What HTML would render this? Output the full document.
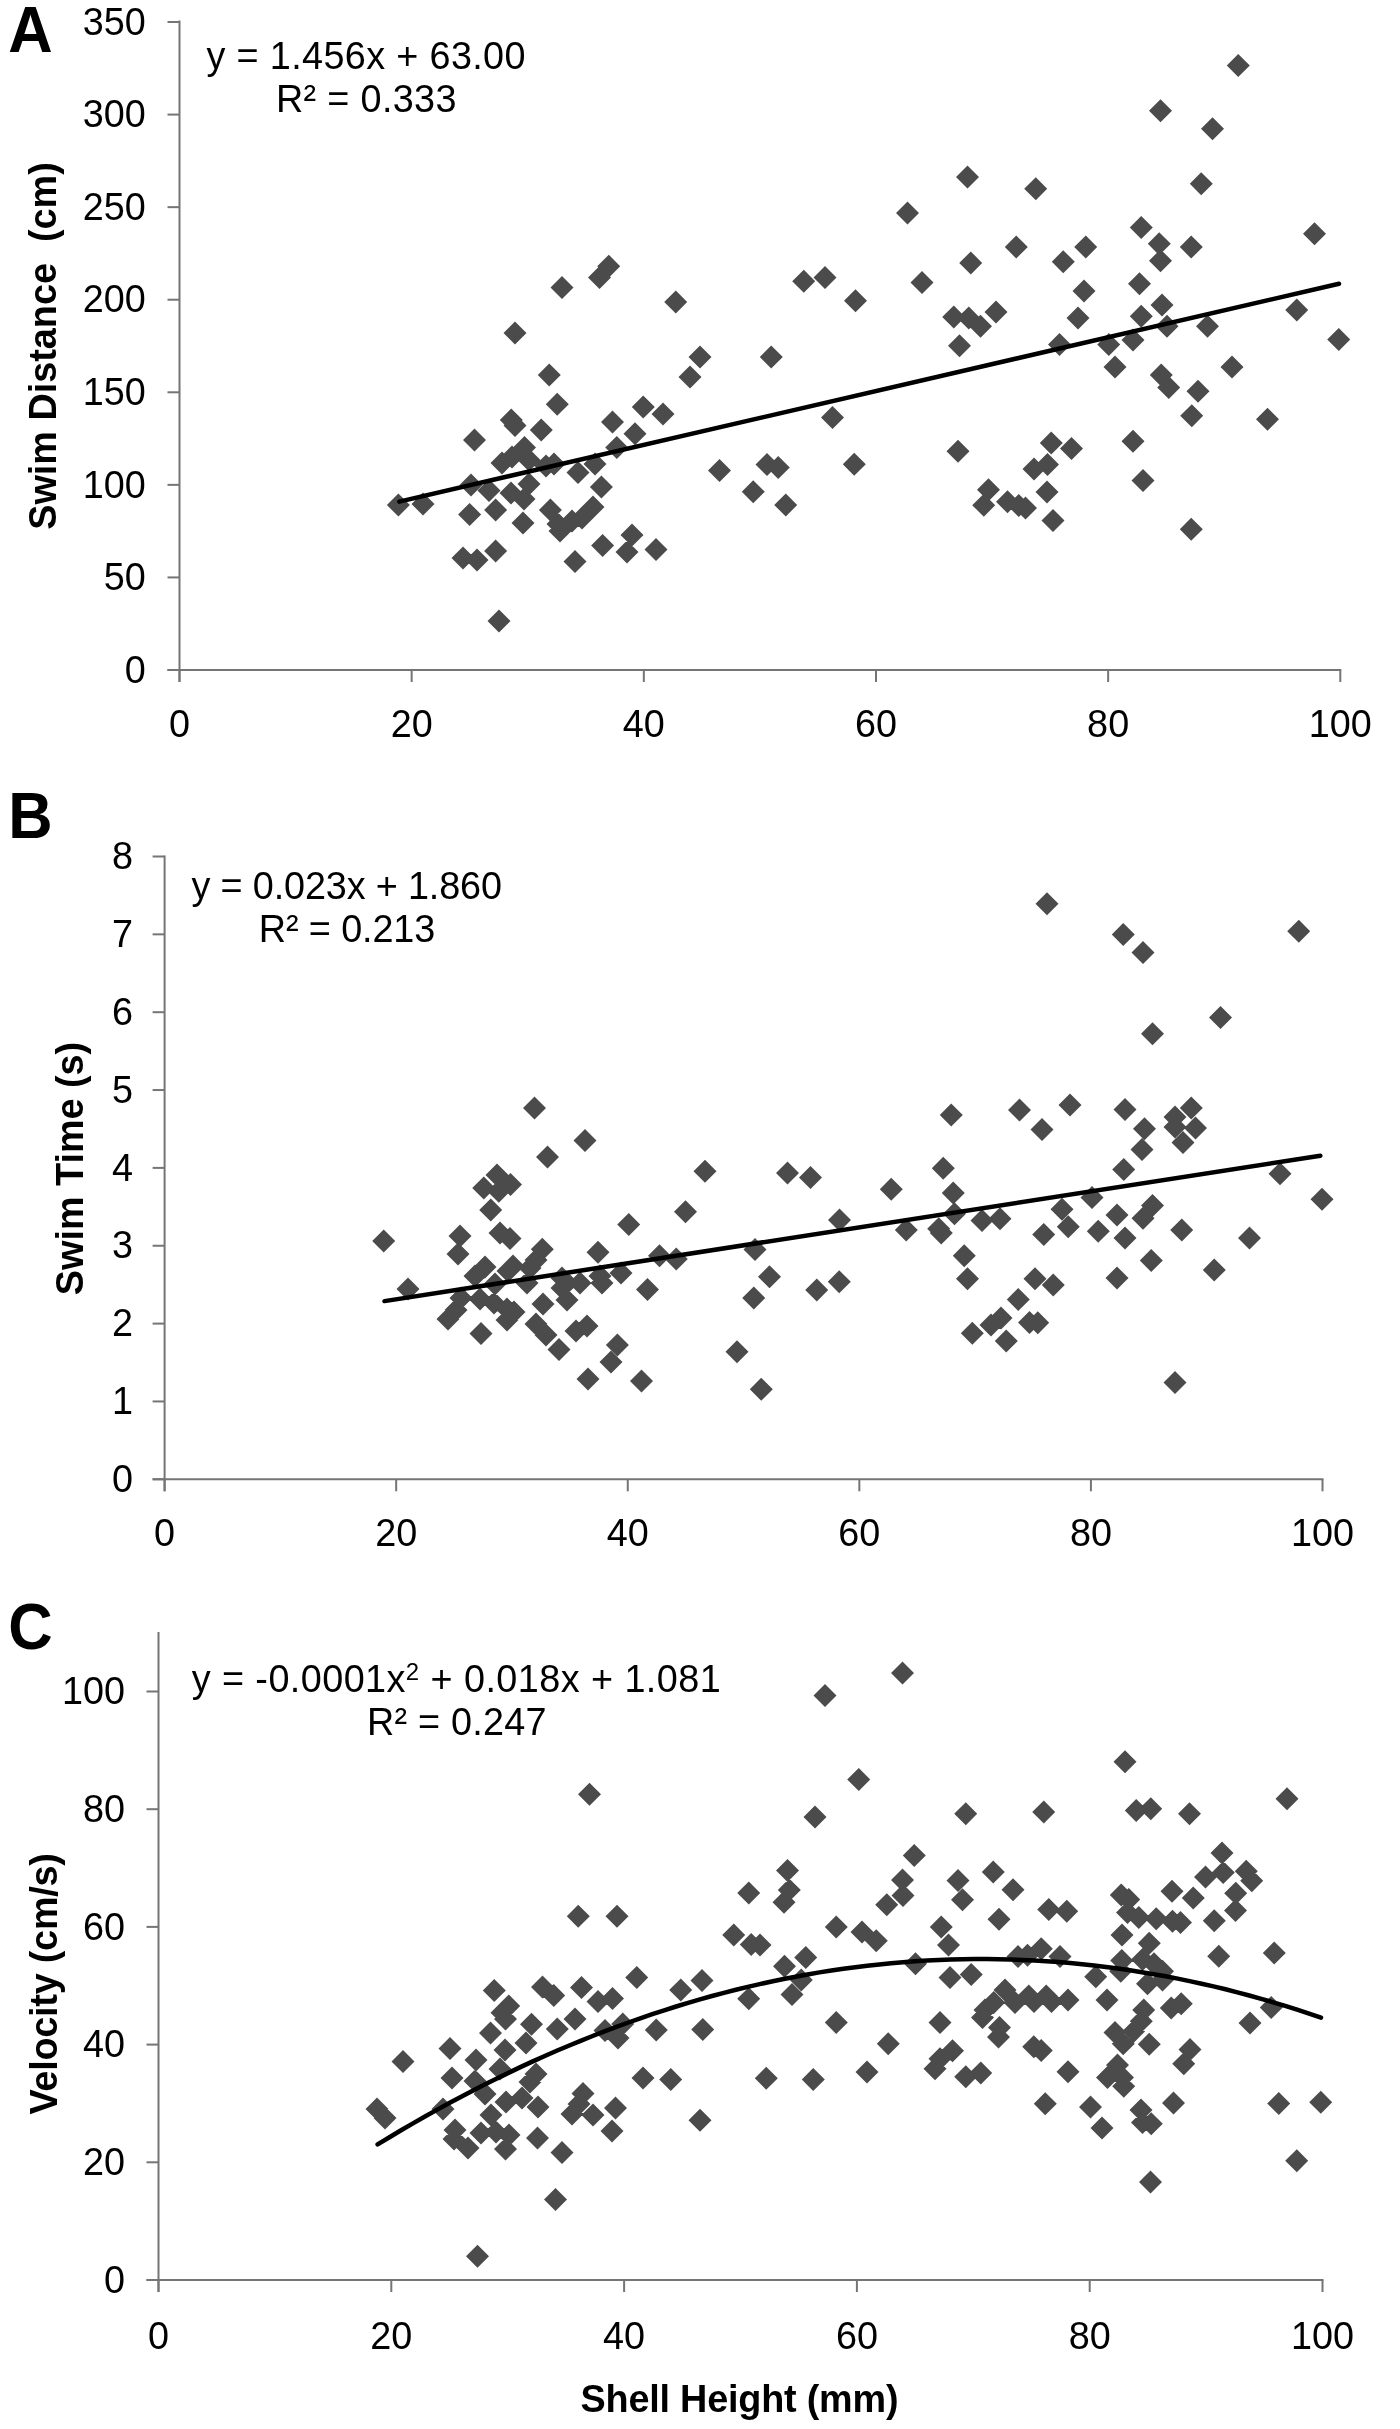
<!DOCTYPE html>
<html><head><meta charset="utf-8"><title>Figure</title>
<style>html,body{margin:0;padding:0;background:#fff}svg{display:block;will-change:transform}text{font-family:"Liberation Sans",sans-serif;fill:#000}</style>
</head><body>
<svg width="1400" height="2429" viewBox="0 0 1400 2429">
<rect width="1400" height="2429" fill="#fff"/>
<line x1="179.5" y1="20.5" x2="179.5" y2="682" stroke="#757575" stroke-width="2"/>
<line x1="167.5" y1="670" x2="1341.3" y2="670" stroke="#757575" stroke-width="2"/>
<line x1="167.5" y1="670.0" x2="179.5" y2="670.0" stroke="#757575" stroke-width="2"/>
<text transform="translate(145.7,682.7) scale(1,1.025)" text-anchor="end" font-size="37.8">0</text>
<line x1="167.5" y1="577.4300000000001" x2="179.5" y2="577.4300000000001" stroke="#757575" stroke-width="2"/>
<text transform="translate(145.7,590.1300000000001) scale(1,1.025)" text-anchor="end" font-size="37.8">50</text>
<line x1="167.5" y1="484.86" x2="179.5" y2="484.86" stroke="#757575" stroke-width="2"/>
<text transform="translate(145.7,497.56) scale(1,1.025)" text-anchor="end" font-size="37.8">100</text>
<line x1="167.5" y1="392.29" x2="179.5" y2="392.29" stroke="#757575" stroke-width="2"/>
<text transform="translate(145.7,404.99) scale(1,1.025)" text-anchor="end" font-size="37.8">150</text>
<line x1="167.5" y1="299.72" x2="179.5" y2="299.72" stroke="#757575" stroke-width="2"/>
<text transform="translate(145.7,312.42) scale(1,1.025)" text-anchor="end" font-size="37.8">200</text>
<line x1="167.5" y1="207.15000000000003" x2="179.5" y2="207.15000000000003" stroke="#757575" stroke-width="2"/>
<text transform="translate(145.7,219.85000000000002) scale(1,1.025)" text-anchor="end" font-size="37.8">250</text>
<line x1="167.5" y1="114.58000000000004" x2="179.5" y2="114.58000000000004" stroke="#757575" stroke-width="2"/>
<text transform="translate(145.7,127.28000000000004) scale(1,1.025)" text-anchor="end" font-size="37.8">300</text>
<line x1="167.5" y1="22.00999999999999" x2="179.5" y2="22.00999999999999" stroke="#757575" stroke-width="2"/>
<text transform="translate(145.7,34.709999999999994) scale(1,1.025)" text-anchor="end" font-size="37.8">350</text>
<line x1="179.5" y1="670" x2="179.5" y2="682" stroke="#757575" stroke-width="2"/>
<text transform="translate(179.5,737.3) scale(1,1.025)" text-anchor="middle" font-size="37.8">0</text>
<line x1="411.65999999999997" y1="670" x2="411.65999999999997" y2="682" stroke="#757575" stroke-width="2"/>
<text transform="translate(411.65999999999997,737.3) scale(1,1.025)" text-anchor="middle" font-size="37.8">20</text>
<line x1="643.8199999999999" y1="670" x2="643.8199999999999" y2="682" stroke="#757575" stroke-width="2"/>
<text transform="translate(643.8199999999999,737.3) scale(1,1.025)" text-anchor="middle" font-size="37.8">40</text>
<line x1="875.9799999999999" y1="670" x2="875.9799999999999" y2="682" stroke="#757575" stroke-width="2"/>
<text transform="translate(875.9799999999999,737.3) scale(1,1.025)" text-anchor="middle" font-size="37.8">60</text>
<line x1="1108.1399999999999" y1="670" x2="1108.1399999999999" y2="682" stroke="#757575" stroke-width="2"/>
<text transform="translate(1108.1399999999999,737.3) scale(1,1.025)" text-anchor="middle" font-size="37.8">80</text>
<line x1="1340.3" y1="670" x2="1340.3" y2="682" stroke="#757575" stroke-width="2"/>
<text transform="translate(1340.3,737.3) scale(1,1.025)" text-anchor="middle" font-size="37.8">100</text>
<line x1="164.6" y1="855.5" x2="164.6" y2="1491.3" stroke="#757575" stroke-width="2"/>
<line x1="152.6" y1="1479.3" x2="1323.5" y2="1479.3" stroke="#757575" stroke-width="2"/>
<line x1="152.6" y1="1479.3" x2="164.6" y2="1479.3" stroke="#757575" stroke-width="2"/>
<text transform="translate(133,1492.0) scale(1,1.025)" text-anchor="end" font-size="37.8">0</text>
<line x1="152.6" y1="1401.45" x2="164.6" y2="1401.45" stroke="#757575" stroke-width="2"/>
<text transform="translate(133,1414.15) scale(1,1.025)" text-anchor="end" font-size="37.8">1</text>
<line x1="152.6" y1="1323.6" x2="164.6" y2="1323.6" stroke="#757575" stroke-width="2"/>
<text transform="translate(133,1336.3) scale(1,1.025)" text-anchor="end" font-size="37.8">2</text>
<line x1="152.6" y1="1245.75" x2="164.6" y2="1245.75" stroke="#757575" stroke-width="2"/>
<text transform="translate(133,1258.45) scale(1,1.025)" text-anchor="end" font-size="37.8">3</text>
<line x1="152.6" y1="1167.9" x2="164.6" y2="1167.9" stroke="#757575" stroke-width="2"/>
<text transform="translate(133,1180.6000000000001) scale(1,1.025)" text-anchor="end" font-size="37.8">4</text>
<line x1="152.6" y1="1090.05" x2="164.6" y2="1090.05" stroke="#757575" stroke-width="2"/>
<text transform="translate(133,1102.75) scale(1,1.025)" text-anchor="end" font-size="37.8">5</text>
<line x1="152.6" y1="1012.2" x2="164.6" y2="1012.2" stroke="#757575" stroke-width="2"/>
<text transform="translate(133,1024.9) scale(1,1.025)" text-anchor="end" font-size="37.8">6</text>
<line x1="152.6" y1="934.35" x2="164.6" y2="934.35" stroke="#757575" stroke-width="2"/>
<text transform="translate(133,947.0500000000001) scale(1,1.025)" text-anchor="end" font-size="37.8">7</text>
<line x1="152.6" y1="856.5" x2="164.6" y2="856.5" stroke="#757575" stroke-width="2"/>
<text transform="translate(133,869.2) scale(1,1.025)" text-anchor="end" font-size="37.8">8</text>
<line x1="164.6" y1="1479.3" x2="164.6" y2="1491.3" stroke="#757575" stroke-width="2"/>
<text transform="translate(164.6,1546.3) scale(1,1.025)" text-anchor="middle" font-size="37.8">0</text>
<line x1="396.18" y1="1479.3" x2="396.18" y2="1491.3" stroke="#757575" stroke-width="2"/>
<text transform="translate(396.18,1546.3) scale(1,1.025)" text-anchor="middle" font-size="37.8">20</text>
<line x1="627.76" y1="1479.3" x2="627.76" y2="1491.3" stroke="#757575" stroke-width="2"/>
<text transform="translate(627.76,1546.3) scale(1,1.025)" text-anchor="middle" font-size="37.8">40</text>
<line x1="859.34" y1="1479.3" x2="859.34" y2="1491.3" stroke="#757575" stroke-width="2"/>
<text transform="translate(859.34,1546.3) scale(1,1.025)" text-anchor="middle" font-size="37.8">60</text>
<line x1="1090.92" y1="1479.3" x2="1090.92" y2="1491.3" stroke="#757575" stroke-width="2"/>
<text transform="translate(1090.92,1546.3) scale(1,1.025)" text-anchor="middle" font-size="37.8">80</text>
<line x1="1322.5" y1="1479.3" x2="1322.5" y2="1491.3" stroke="#757575" stroke-width="2"/>
<text transform="translate(1322.5,1546.3) scale(1,1.025)" text-anchor="middle" font-size="37.8">100</text>
<line x1="158.5" y1="1632" x2="158.5" y2="2292" stroke="#757575" stroke-width="2"/>
<line x1="146.5" y1="2280" x2="1323.5" y2="2280" stroke="#757575" stroke-width="2"/>
<line x1="146.5" y1="2280.0" x2="158.5" y2="2280.0" stroke="#757575" stroke-width="2"/>
<text transform="translate(125,2292.7) scale(1,1.025)" text-anchor="end" font-size="37.8">0</text>
<line x1="146.5" y1="2162.3" x2="158.5" y2="2162.3" stroke="#757575" stroke-width="2"/>
<text transform="translate(125,2175.0) scale(1,1.025)" text-anchor="end" font-size="37.8">20</text>
<line x1="146.5" y1="2044.6" x2="158.5" y2="2044.6" stroke="#757575" stroke-width="2"/>
<text transform="translate(125,2057.2999999999997) scale(1,1.025)" text-anchor="end" font-size="37.8">40</text>
<line x1="146.5" y1="1926.9" x2="158.5" y2="1926.9" stroke="#757575" stroke-width="2"/>
<text transform="translate(125,1939.6000000000001) scale(1,1.025)" text-anchor="end" font-size="37.8">60</text>
<line x1="146.5" y1="1809.2" x2="158.5" y2="1809.2" stroke="#757575" stroke-width="2"/>
<text transform="translate(125,1821.9) scale(1,1.025)" text-anchor="end" font-size="37.8">80</text>
<line x1="146.5" y1="1691.5" x2="158.5" y2="1691.5" stroke="#757575" stroke-width="2"/>
<text transform="translate(125,1704.2) scale(1,1.025)" text-anchor="end" font-size="37.8">100</text>
<line x1="158.5" y1="2280" x2="158.5" y2="2292" stroke="#757575" stroke-width="2"/>
<text transform="translate(158.5,2348.8) scale(1,1.025)" text-anchor="middle" font-size="37.8">0</text>
<line x1="391.3" y1="2280" x2="391.3" y2="2292" stroke="#757575" stroke-width="2"/>
<text transform="translate(391.3,2348.8) scale(1,1.025)" text-anchor="middle" font-size="37.8">20</text>
<line x1="624.1" y1="2280" x2="624.1" y2="2292" stroke="#757575" stroke-width="2"/>
<text transform="translate(624.1,2348.8) scale(1,1.025)" text-anchor="middle" font-size="37.8">40</text>
<line x1="856.9" y1="2280" x2="856.9" y2="2292" stroke="#757575" stroke-width="2"/>
<text transform="translate(856.9,2348.8) scale(1,1.025)" text-anchor="middle" font-size="37.8">60</text>
<line x1="1089.7" y1="2280" x2="1089.7" y2="2292" stroke="#757575" stroke-width="2"/>
<text transform="translate(1089.7,2348.8) scale(1,1.025)" text-anchor="middle" font-size="37.8">80</text>
<line x1="1322.5" y1="2280" x2="1322.5" y2="2292" stroke="#757575" stroke-width="2"/>
<text transform="translate(1322.5,2348.8) scale(1,1.025)" text-anchor="middle" font-size="37.8">100</text>
<path d="M597.2 266.2L608.8 254.8L620.2 266.2L608.8 277.8ZM588.0 277.5L599.5 266.0L611.0 277.5L599.5 289.0ZM550.5 287.5L562.0 276.0L573.5 287.5L562.0 299.0ZM664.2 302.0L675.8 290.5L687.2 302.0L675.8 313.5ZM503.5 333.0L515.0 321.5L526.5 333.0L515.0 344.5ZM688.5 357.0L700.0 345.5L711.5 357.0L700.0 368.5ZM678.5 377.0L690.0 365.5L701.5 377.0L690.0 388.5ZM537.8 375.0L549.2 363.5L560.8 375.0L549.2 386.5ZM545.8 404.2L557.2 392.8L568.8 404.2L557.2 415.8ZM631.8 407.0L643.2 395.5L654.8 407.0L643.2 418.5ZM651.5 414.0L663.0 402.5L674.5 414.0L663.0 425.5ZM499.8 420.0L511.2 408.5L522.8 420.0L511.2 431.5ZM503.5 425.5L515.0 414.0L526.5 425.5L515.0 437.0ZM529.8 430.0L541.2 418.5L552.8 430.0L541.2 441.5ZM601.0 422.0L612.5 410.5L624.0 422.0L612.5 433.5ZM623.5 433.8L635.0 422.2L646.5 433.8L635.0 445.2ZM463.0 440.0L474.5 428.5L486.0 440.0L474.5 451.5ZM605.2 447.5L616.8 436.0L628.2 447.5L616.8 459.0ZM513.0 447.5L524.5 436.0L536.0 447.5L524.5 459.0ZM386.9 505.0L398.4 493.5L409.9 505.0L398.4 516.5ZM411.5 504.0L423.0 492.5L434.5 504.0L423.0 515.5ZM500.5 457.0L512.0 445.5L523.5 457.0L512.0 468.5ZM490.5 463.0L502.0 451.5L513.5 463.0L502.0 474.5ZM517.5 460.0L529.0 448.5L540.5 460.0L529.0 471.5ZM534.5 466.0L546.0 454.5L557.5 466.0L546.0 477.5ZM542.5 464.0L554.0 452.5L565.5 464.0L554.0 475.5ZM583.5 464.0L595.0 452.5L606.5 464.0L595.0 475.5ZM566.5 472.4L578.0 460.9L589.5 472.4L578.0 483.9ZM459.5 485.0L471.0 473.5L482.5 485.0L471.0 496.5ZM477.5 490.4L489.0 478.9L500.5 490.4L489.0 501.9ZM517.5 484.0L529.0 472.5L540.5 484.0L529.0 495.5ZM499.5 493.0L511.0 481.5L522.5 493.0L511.0 504.5ZM589.9 487.0L601.4 475.5L612.9 487.0L601.4 498.5ZM512.5 499.0L524.0 487.5L535.5 499.0L524.0 510.5ZM458.1 514.4L469.6 502.9L481.1 514.4L469.6 525.9ZM484.1 510.0L495.6 498.5L507.1 510.0L495.6 521.5ZM511.5 523.0L523.0 511.5L534.5 523.0L523.0 534.5ZM538.9 510.0L550.4 498.5L561.9 510.0L550.4 521.5ZM581.5 507.0L593.0 495.5L604.5 507.0L593.0 518.5ZM570.5 518.0L582.0 506.5L593.5 518.0L582.0 529.5ZM560.5 521.0L572.0 509.5L583.5 521.0L572.0 532.5ZM546.5 524.0L558.0 512.5L569.5 524.0L558.0 535.5ZM548.5 531.0L560.0 519.5L571.5 531.0L560.0 542.5ZM620.5 535.0L632.0 523.5L643.5 535.0L632.0 546.5ZM591.1 545.6L602.6 534.1L614.1 545.6L602.6 557.1ZM615.5 552.0L627.0 540.5L638.5 552.0L627.0 563.5ZM644.5 549.5L656.0 538.0L667.5 549.5L656.0 561.0ZM563.5 561.6L575.0 550.1L586.5 561.6L575.0 573.1ZM484.1 551.0L495.6 539.5L507.1 551.0L495.6 562.5ZM451.5 558.0L463.0 546.5L474.5 558.0L463.0 569.5ZM465.5 560.0L477.0 548.5L488.5 560.0L477.0 571.5ZM487.5 621.0L499.0 609.5L510.5 621.0L499.0 632.5ZM956.0 177.0L967.5 165.5L979.0 177.0L967.5 188.5ZM896.0 213.0L907.5 201.5L919.0 213.0L907.5 224.5ZM959.2 263.0L970.8 251.5L982.2 263.0L970.8 274.5ZM910.5 282.5L922.0 271.0L933.5 282.5L922.0 294.0ZM792.2 281.2L803.8 269.8L815.2 281.2L803.8 292.8ZM813.5 277.5L825.0 266.0L836.5 277.5L825.0 289.0ZM844.0 300.8L855.5 289.2L867.0 300.8L855.5 312.2ZM942.2 317.0L953.8 305.5L965.2 317.0L953.8 328.5ZM957.2 318.0L968.8 306.5L980.2 318.0L968.8 329.5ZM969.0 326.2L980.5 314.8L992.0 326.2L980.5 337.8ZM984.5 312.0L996.0 300.5L1007.5 312.0L996.0 323.5ZM948.0 345.8L959.5 334.2L971.0 345.8L959.5 357.2ZM759.8 357.0L771.2 345.5L782.8 357.0L771.2 368.5ZM821.0 417.5L832.5 406.0L844.0 417.5L832.5 429.0ZM946.5 451.2L958.0 439.8L969.5 451.2L958.0 462.8ZM708.0 470.5L719.5 459.0L731.0 470.5L719.5 482.0ZM755.5 464.5L767.0 453.0L778.5 464.5L767.0 476.0ZM766.8 467.5L778.2 456.0L789.8 467.5L778.2 479.0ZM842.8 464.2L854.2 452.8L865.8 464.2L854.2 475.8ZM741.8 491.8L753.2 480.2L764.8 491.8L753.2 503.2ZM774.2 505.0L785.8 493.5L797.2 505.0L785.8 516.5ZM977.0 489.8L988.5 478.2L1000.0 489.8L988.5 501.2ZM972.2 505.2L983.8 493.8L995.2 505.2L983.8 516.8ZM1226.8 65.5L1238.2 54.0L1249.8 65.5L1238.2 77.0ZM1149.0 110.8L1160.5 99.2L1172.0 110.8L1160.5 122.2ZM1201.0 128.8L1212.5 117.2L1224.0 128.8L1212.5 140.2ZM1189.8 183.8L1201.2 172.2L1212.8 183.8L1201.2 195.2ZM1024.2 188.8L1035.8 177.2L1047.2 188.8L1035.8 200.2ZM1129.8 227.5L1141.2 216.0L1152.8 227.5L1141.2 239.0ZM1147.8 243.8L1159.2 232.2L1170.8 243.8L1159.2 255.2ZM1149.0 260.8L1160.5 249.2L1172.0 260.8L1160.5 272.2ZM1179.8 247.0L1191.2 235.5L1202.8 247.0L1191.2 258.5ZM1303.0 233.8L1314.5 222.2L1326.0 233.8L1314.5 245.2ZM1074.2 247.0L1085.8 235.5L1097.2 247.0L1085.8 258.5ZM1004.8 247.0L1016.2 235.5L1027.8 247.0L1016.2 258.5ZM1051.8 261.8L1063.2 250.2L1074.8 261.8L1063.2 273.2ZM1128.0 283.8L1139.5 272.2L1151.0 283.8L1139.5 295.2ZM1072.5 291.0L1084.0 279.5L1095.5 291.0L1084.0 302.5ZM1150.5 305.0L1162.0 293.5L1173.5 305.0L1162.0 316.5ZM1129.8 316.2L1141.2 304.8L1152.8 316.2L1141.2 327.8ZM1066.5 318.0L1078.0 306.5L1089.5 318.0L1078.0 329.5ZM1155.5 326.2L1167.0 314.8L1178.5 326.2L1167.0 337.8ZM1196.0 326.2L1207.5 314.8L1219.0 326.2L1207.5 337.8ZM1285.2 310.0L1296.8 298.5L1308.2 310.0L1296.8 321.5ZM1327.2 339.5L1338.8 328.0L1350.2 339.5L1338.8 351.0ZM1048.0 344.5L1059.5 333.0L1071.0 344.5L1059.5 356.0ZM1097.2 344.5L1108.8 333.0L1120.2 344.5L1108.8 356.0ZM1121.5 340.0L1133.0 328.5L1144.5 340.0L1133.0 351.5ZM1103.5 367.0L1115.0 355.5L1126.5 367.0L1115.0 378.5ZM1220.5 367.0L1232.0 355.5L1243.5 367.0L1232.0 378.5ZM1149.8 375.0L1161.2 363.5L1172.8 375.0L1161.2 386.5ZM1157.2 387.5L1168.8 376.0L1180.2 387.5L1168.8 399.0ZM1186.5 391.2L1198.0 379.8L1209.5 391.2L1198.0 402.8ZM1180.2 415.8L1191.8 404.2L1203.2 415.8L1191.8 427.2ZM1256.0 419.2L1267.5 407.8L1279.0 419.2L1267.5 430.8ZM1121.5 441.2L1133.0 429.8L1144.5 441.2L1133.0 452.8ZM1039.8 443.0L1051.2 431.5L1062.8 443.0L1051.2 454.5ZM1060.0 448.4L1071.5 436.9L1083.0 448.4L1071.5 459.9ZM1036.0 464.4L1047.5 452.9L1059.0 464.4L1047.5 475.9ZM1022.5 469.0L1034.0 457.5L1045.5 469.0L1034.0 480.5ZM1131.5 480.5L1143.0 469.0L1154.5 480.5L1143.0 492.0ZM1035.5 492.0L1047.0 480.5L1058.5 492.0L1047.0 503.5ZM996.0 501.8L1007.5 490.2L1019.0 501.8L1007.5 513.2ZM1007.2 505.5L1018.8 494.0L1030.2 505.5L1018.8 517.0ZM1014.0 508.0L1025.5 496.5L1037.0 508.0L1025.5 519.5ZM1041.5 520.6L1053.0 509.1L1064.5 520.6L1053.0 532.1ZM1179.8 529.2L1191.2 517.8L1202.8 529.2L1191.2 540.8Z" fill="#4b4b4b"/>
<path d="M523.0 1108.0L534.5 1096.5L546.0 1108.0L534.5 1119.5ZM573.5 1140.5L585.0 1129.0L596.5 1140.5L585.0 1152.0ZM536.0 1157.0L547.5 1145.5L559.0 1157.0L547.5 1168.5ZM693.5 1171.2L705.0 1159.8L716.5 1171.2L705.0 1182.8ZM485.5 1175.0L497.0 1163.5L508.5 1175.0L497.0 1186.5ZM472.2 1188.0L483.8 1176.5L495.2 1188.0L483.8 1199.5ZM499.0 1184.5L510.5 1173.0L522.0 1184.5L510.5 1196.0ZM487.2 1191.2L498.8 1179.8L510.2 1191.2L498.8 1202.8ZM479.2 1210.0L490.8 1198.5L502.2 1210.0L490.8 1221.5ZM674.0 1211.8L685.5 1200.2L697.0 1211.8L685.5 1223.2ZM617.2 1224.5L628.8 1213.0L640.2 1224.5L628.8 1236.0ZM372.2 1241.0L383.7 1229.5L395.2 1241.0L383.7 1252.5ZM448.5 1236.0L460.0 1224.5L471.5 1236.0L460.0 1247.5ZM488.5 1233.0L500.0 1221.5L511.5 1233.0L500.0 1244.5ZM498.5 1238.5L510.0 1227.0L521.5 1238.5L510.0 1250.0ZM530.8 1249.3L542.3 1237.8L553.8 1249.3L542.3 1260.8ZM446.5 1254.0L458.0 1242.5L469.5 1254.0L458.0 1265.5ZM586.5 1252.3L598.0 1240.8L609.5 1252.3L598.0 1263.8ZM648.0 1255.8L659.5 1244.2L671.0 1255.8L659.5 1267.2ZM664.8 1259.0L676.2 1247.5L687.8 1259.0L676.2 1270.5ZM396.5 1289.0L408.0 1277.5L419.5 1289.0L408.0 1300.5ZM473.5 1267.0L485.0 1255.5L496.5 1267.0L485.0 1278.5ZM463.5 1276.0L475.0 1264.5L486.5 1276.0L475.0 1287.5ZM501.5 1266.0L513.0 1254.5L524.5 1266.0L513.0 1277.5ZM496.5 1271.0L508.0 1259.5L519.5 1271.0L508.0 1282.5ZM524.5 1260.0L536.0 1248.5L547.5 1260.0L536.0 1271.5ZM518.5 1268.0L530.0 1256.5L541.5 1268.0L530.0 1279.5ZM483.5 1284.0L495.0 1272.5L506.5 1284.0L495.0 1295.5ZM515.5 1283.0L527.0 1271.5L538.5 1283.0L527.0 1294.5ZM550.5 1278.0L562.0 1266.5L573.5 1278.0L562.0 1289.5ZM568.5 1283.0L580.0 1271.5L591.5 1283.0L580.0 1294.5ZM588.5 1276.0L600.0 1264.5L611.5 1276.0L600.0 1287.5ZM590.5 1283.0L602.0 1271.5L613.5 1283.0L602.0 1294.5ZM609.5 1273.0L621.0 1261.5L632.5 1273.0L621.0 1284.5ZM636.0 1289.5L647.5 1278.0L659.0 1289.5L647.5 1301.0ZM449.5 1298.0L461.0 1286.5L472.5 1298.0L461.0 1309.5ZM468.5 1299.0L480.0 1287.5L491.5 1299.0L480.0 1310.5ZM482.5 1303.0L494.0 1291.5L505.5 1303.0L494.0 1314.5ZM444.5 1310.0L456.0 1298.5L467.5 1310.0L456.0 1321.5ZM436.5 1319.0L448.0 1307.5L459.5 1319.0L448.0 1330.5ZM495.5 1309.0L507.0 1297.5L518.5 1309.0L507.0 1320.5ZM502.5 1312.0L514.0 1300.5L525.5 1312.0L514.0 1323.5ZM495.5 1320.0L507.0 1308.5L518.5 1320.0L507.0 1331.5ZM531.5 1304.0L543.0 1292.5L554.5 1304.0L543.0 1315.5ZM555.5 1300.0L567.0 1288.5L578.5 1300.0L567.0 1311.5ZM550.5 1288.0L562.0 1276.5L573.5 1288.0L562.0 1299.5ZM469.5 1333.6L481.0 1322.1L492.5 1333.6L481.0 1345.1ZM524.5 1324.0L536.0 1312.5L547.5 1324.0L536.0 1335.5ZM534.5 1335.0L546.0 1323.5L557.5 1335.0L546.0 1346.5ZM547.5 1349.6L559.0 1338.1L570.5 1349.6L559.0 1361.1ZM564.5 1331.0L576.0 1319.5L587.5 1331.0L576.0 1342.5ZM575.5 1326.0L587.0 1314.5L598.5 1326.0L587.0 1337.5ZM605.9 1345.0L617.4 1333.5L628.9 1345.0L617.4 1356.5ZM599.5 1362.0L611.0 1350.5L622.5 1362.0L611.0 1373.5ZM576.5 1379.0L588.0 1367.5L599.5 1379.0L588.0 1390.5ZM630.0 1381.0L641.5 1369.5L653.0 1381.0L641.5 1392.5ZM939.8 1115.0L951.2 1103.5L962.8 1115.0L951.2 1126.5ZM931.8 1168.2L943.2 1156.8L954.8 1168.2L943.2 1179.8ZM776.0 1173.0L787.5 1161.5L799.0 1173.0L787.5 1184.5ZM799.0 1177.5L810.5 1166.0L822.0 1177.5L810.5 1189.0ZM879.8 1189.2L891.2 1177.8L902.8 1189.2L891.2 1200.8ZM941.8 1193.0L953.2 1181.5L964.8 1193.0L953.2 1204.5ZM828.0 1220.0L839.5 1208.5L851.0 1220.0L839.5 1231.5ZM943.0 1213.8L954.5 1202.2L966.0 1213.8L954.5 1225.2ZM970.5 1220.5L982.0 1209.0L993.5 1220.5L982.0 1232.0ZM894.8 1230.0L906.2 1218.5L917.8 1230.0L906.2 1241.5ZM927.2 1228.8L938.8 1217.2L950.2 1228.8L938.8 1240.2ZM929.8 1233.0L941.2 1221.5L952.8 1233.0L941.2 1244.5ZM743.5 1249.5L755.0 1238.0L766.5 1249.5L755.0 1261.0ZM952.8 1255.8L964.2 1244.2L975.8 1255.8L964.2 1267.2ZM956.0 1278.8L967.5 1267.2L979.0 1278.8L967.5 1290.2ZM758.0 1276.8L769.5 1265.2L781.0 1276.8L769.5 1288.2ZM742.2 1298.0L753.8 1286.5L765.2 1298.0L753.8 1309.5ZM805.2 1290.0L816.8 1278.5L828.2 1290.0L816.8 1301.5ZM827.8 1281.8L839.2 1270.2L850.8 1281.8L839.2 1293.2ZM960.8 1333.3L972.3 1321.8L983.8 1333.3L972.3 1344.8ZM979.5 1325.0L991.0 1313.5L1002.5 1325.0L991.0 1336.5ZM725.5 1351.8L737.0 1340.2L748.5 1351.8L737.0 1363.2ZM749.8 1389.2L761.2 1377.8L772.8 1389.2L761.2 1400.8ZM1035.5 903.8L1047.0 892.2L1058.5 903.8L1047.0 915.2ZM1111.8 934.5L1123.2 923.0L1134.8 934.5L1123.2 946.0ZM1131.5 952.5L1143.0 941.0L1154.5 952.5L1143.0 964.0ZM1287.2 931.2L1298.8 919.8L1310.2 931.2L1298.8 942.8ZM1209.0 1017.5L1220.5 1006.0L1232.0 1017.5L1220.5 1029.0ZM1141.0 1033.8L1152.5 1022.2L1164.0 1033.8L1152.5 1045.2ZM1008.0 1110.0L1019.5 1098.5L1031.0 1110.0L1019.5 1121.5ZM1058.5 1105.0L1070.0 1093.5L1081.5 1105.0L1070.0 1116.5ZM1113.5 1109.5L1125.0 1098.0L1136.5 1109.5L1125.0 1121.0ZM1179.8 1108.0L1191.2 1096.5L1202.8 1108.0L1191.2 1119.5ZM1163.5 1117.0L1175.0 1105.5L1186.5 1117.0L1175.0 1128.5ZM1030.5 1129.5L1042.0 1118.0L1053.5 1129.5L1042.0 1141.0ZM1133.0 1128.8L1144.5 1117.2L1156.0 1128.8L1144.5 1140.2ZM1163.5 1127.0L1175.0 1115.5L1186.5 1127.0L1175.0 1138.5ZM1184.0 1128.0L1195.5 1116.5L1207.0 1128.0L1195.5 1139.5ZM1171.5 1142.5L1183.0 1131.0L1194.5 1142.5L1183.0 1154.0ZM1130.5 1149.5L1142.0 1138.0L1153.5 1149.5L1142.0 1161.0ZM1112.2 1169.5L1123.8 1158.0L1135.2 1169.5L1123.8 1181.0ZM1268.5 1173.8L1280.0 1162.2L1291.5 1173.8L1280.0 1185.2ZM1310.5 1199.2L1322.0 1187.8L1333.5 1199.2L1322.0 1210.8ZM1080.5 1197.5L1092.0 1186.0L1103.5 1197.5L1092.0 1209.0ZM1050.5 1209.2L1062.0 1197.8L1073.5 1209.2L1062.0 1220.8ZM1141.0 1205.5L1152.5 1194.0L1164.0 1205.5L1152.5 1217.0ZM1105.5 1215.0L1117.0 1203.5L1128.5 1215.0L1117.0 1226.5ZM1131.5 1218.2L1143.0 1206.8L1154.5 1218.2L1143.0 1229.8ZM988.5 1218.8L1000.0 1207.2L1011.5 1218.8L1000.0 1230.2ZM1056.8 1226.8L1068.2 1215.2L1079.8 1226.8L1068.2 1238.2ZM1032.2 1234.5L1043.8 1223.0L1055.2 1234.5L1043.8 1246.0ZM1086.8 1231.2L1098.2 1219.8L1109.8 1231.2L1098.2 1242.8ZM1113.5 1238.0L1125.0 1226.5L1136.5 1238.0L1125.0 1249.5ZM1170.2 1230.0L1181.8 1218.5L1193.2 1230.0L1181.8 1241.5ZM1238.0 1238.0L1249.5 1226.5L1261.0 1238.0L1249.5 1249.5ZM1139.8 1260.5L1151.2 1249.0L1162.8 1260.5L1151.2 1272.0ZM1202.8 1270.0L1214.2 1258.5L1225.8 1270.0L1214.2 1281.5ZM1105.5 1278.0L1117.0 1266.5L1128.5 1278.0L1117.0 1289.5ZM1023.5 1278.8L1035.0 1267.2L1046.5 1278.8L1035.0 1290.2ZM1041.8 1285.0L1053.2 1273.5L1064.8 1285.0L1053.2 1296.5ZM1006.8 1299.5L1018.2 1288.0L1029.8 1299.5L1018.2 1311.0ZM989.5 1318.0L1001.0 1306.5L1012.5 1318.0L1001.0 1329.5ZM1018.0 1322.5L1029.5 1311.0L1041.0 1322.5L1029.5 1334.0ZM1026.2 1322.8L1037.8 1311.3L1049.2 1322.8L1037.8 1334.3ZM994.8 1341.0L1006.2 1329.5L1017.8 1341.0L1006.2 1352.5ZM1163.5 1382.5L1175.0 1371.0L1186.5 1382.5L1175.0 1394.0Z" fill="#4b4b4b"/>
<path d="M578.0 1794.2L589.5 1782.8L601.0 1794.2L589.5 1805.8ZM566.8 1916.2L578.2 1904.8L589.8 1916.2L578.2 1927.8ZM605.5 1916.2L617.0 1904.8L628.5 1916.2L617.0 1927.8ZM625.2 1977.5L636.8 1966.0L648.2 1977.5L636.8 1989.0ZM690.5 1980.5L702.0 1969.0L713.5 1980.5L702.0 1992.0ZM482.8 1990.5L494.2 1979.0L505.8 1990.5L494.2 2002.0ZM531.0 1987.0L542.5 1975.5L554.0 1987.0L542.5 1998.5ZM542.2 1995.5L553.8 1984.0L565.2 1995.5L553.8 2007.0ZM570.0 1987.5L581.5 1976.0L593.0 1987.5L581.5 1999.0ZM669.2 1990.0L680.8 1978.5L692.2 1990.0L680.8 2001.5ZM586.5 2001.5L598.0 1990.0L609.5 2001.5L598.0 2013.0ZM601.0 1998.5L612.5 1987.0L624.0 1998.5L612.5 2010.0ZM497.2 2006.0L508.8 1994.5L520.2 2006.0L508.8 2017.5ZM490.5 2012.8L502.0 2001.2L513.5 2012.8L502.0 2024.2ZM494.0 2019.0L505.5 2007.5L517.0 2019.0L505.5 2030.5ZM563.5 2019.0L575.0 2007.5L586.5 2019.0L575.0 2030.5ZM520.0 2024.2L531.5 2012.8L543.0 2024.2L531.5 2035.8ZM545.8 2029.0L557.2 2017.5L568.8 2029.0L557.2 2040.5ZM611.2 2024.0L622.8 2012.5L634.2 2024.0L622.8 2035.5ZM593.5 2030.5L605.0 2019.0L616.5 2030.5L605.0 2042.0ZM644.8 2030.0L656.2 2018.5L667.8 2030.0L656.2 2041.5ZM691.2 2029.5L702.8 2018.0L714.2 2029.5L702.8 2041.0ZM479.0 2033.0L490.5 2021.5L502.0 2033.0L490.5 2044.5ZM606.5 2038.0L618.0 2026.5L629.5 2038.0L618.0 2049.5ZM514.5 2043.0L526.0 2031.5L537.5 2043.0L526.0 2054.5ZM493.5 2050.0L505.0 2038.5L516.5 2050.0L505.0 2061.5ZM438.5 2048.6L450.0 2037.1L461.5 2048.6L450.0 2060.1ZM391.5 2061.4L403.0 2049.9L414.5 2061.4L403.0 2072.9ZM464.5 2060.0L476.0 2048.5L487.5 2060.0L476.0 2071.5ZM488.5 2069.0L500.0 2057.5L511.5 2069.0L500.0 2080.5ZM440.5 2078.0L452.0 2066.5L463.5 2078.0L452.0 2089.5ZM463.5 2081.0L475.0 2069.5L486.5 2081.0L475.0 2092.5ZM524.5 2074.0L536.0 2062.5L547.5 2074.0L536.0 2085.5ZM518.5 2082.0L530.0 2070.5L541.5 2082.0L530.0 2093.5ZM473.5 2094.0L485.0 2082.5L496.5 2094.0L485.0 2105.5ZM365.5 2109.0L377.0 2097.5L388.5 2109.0L377.0 2120.5ZM373.5 2118.0L385.0 2106.5L396.5 2118.0L385.0 2129.5ZM431.5 2109.0L443.0 2097.5L454.5 2109.0L443.0 2120.5ZM494.5 2102.0L506.0 2090.5L517.5 2102.0L506.0 2113.5ZM510.5 2098.0L522.0 2086.5L533.5 2098.0L522.0 2109.5ZM526.5 2107.0L538.0 2095.5L549.5 2107.0L538.0 2118.5ZM571.5 2093.5L583.0 2082.0L594.5 2093.5L583.0 2105.0ZM567.5 2104.0L579.0 2092.5L590.5 2104.0L579.0 2115.5ZM560.5 2114.0L572.0 2102.5L583.5 2114.0L572.0 2125.5ZM581.5 2115.0L593.0 2103.5L604.5 2115.0L593.0 2126.5ZM604.0 2108.0L615.5 2096.5L627.0 2108.0L615.5 2119.5ZM631.5 2078.0L643.0 2066.5L654.5 2078.0L643.0 2089.5ZM479.5 2115.0L491.0 2103.5L502.5 2115.0L491.0 2126.5ZM443.5 2130.0L455.0 2118.5L466.5 2130.0L455.0 2141.5ZM442.5 2139.0L454.0 2127.5L465.5 2139.0L454.0 2150.5ZM469.5 2133.0L481.0 2121.5L492.5 2133.0L481.0 2144.5ZM484.5 2132.0L496.0 2120.5L507.5 2132.0L496.0 2143.5ZM497.5 2135.0L509.0 2123.5L520.5 2135.0L509.0 2146.5ZM456.5 2148.0L468.0 2136.5L479.5 2148.0L468.0 2159.5ZM494.0 2149.0L505.5 2137.5L517.0 2149.0L505.5 2160.5ZM526.0 2138.0L537.5 2126.5L549.0 2138.0L537.5 2149.5ZM600.5 2131.0L612.0 2119.5L623.5 2131.0L612.0 2142.5ZM550.5 2152.5L562.0 2141.0L573.5 2152.5L562.0 2164.0ZM544.0 2199.5L555.5 2188.0L567.0 2199.5L555.5 2211.0ZM466.0 2256.2L477.5 2244.8L489.0 2256.2L477.5 2267.8ZM659.2 2079.5L670.8 2068.0L682.2 2079.5L670.8 2091.0ZM688.5 2120.2L700.0 2108.8L711.5 2120.2L700.0 2131.8ZM813.5 1695.5L825.0 1684.0L836.5 1695.5L825.0 1707.0ZM847.2 1779.5L858.8 1768.0L870.2 1779.5L858.8 1791.0ZM803.5 1817.0L815.0 1805.5L826.5 1817.0L815.0 1828.5ZM954.2 1813.8L965.8 1802.2L977.2 1813.8L965.8 1825.2ZM902.8 1855.5L914.2 1844.0L925.8 1855.5L914.2 1867.0ZM776.0 1870.5L787.5 1859.0L799.0 1870.5L787.5 1882.0ZM891.0 1880.0L902.5 1868.5L914.0 1880.0L902.5 1891.5ZM981.8 1872.0L993.2 1860.5L1004.8 1872.0L993.2 1883.5ZM946.5 1880.5L958.0 1869.0L969.5 1880.5L958.0 1892.0ZM737.2 1893.0L748.8 1881.5L760.2 1893.0L748.8 1904.5ZM777.8 1890.0L789.2 1878.5L800.8 1890.0L789.2 1901.5ZM772.5 1902.2L784.0 1890.8L795.5 1902.2L784.0 1913.8ZM891.5 1895.5L903.0 1884.0L914.5 1895.5L903.0 1907.0ZM875.2 1904.8L886.8 1893.2L898.2 1904.8L886.8 1916.2ZM951.0 1899.8L962.5 1888.2L974.0 1899.8L962.5 1911.2ZM1001.5 1889.8L1013.0 1878.2L1024.5 1889.8L1013.0 1901.2ZM987.5 1919.2L999.0 1907.8L1010.5 1919.2L999.0 1930.8ZM824.8 1927.0L836.2 1915.5L847.8 1927.0L836.2 1938.5ZM929.8 1927.0L941.2 1915.5L952.8 1927.0L941.2 1938.5ZM722.2 1935.0L733.8 1923.5L745.2 1935.0L733.8 1946.5ZM850.5 1932.0L862.0 1920.5L873.5 1932.0L862.0 1943.5ZM864.8 1940.8L876.2 1929.2L887.8 1940.8L876.2 1952.2ZM739.8 1944.5L751.2 1933.0L762.8 1944.5L751.2 1956.0ZM748.5 1945.0L760.0 1933.5L771.5 1945.0L760.0 1956.5ZM937.0 1945.0L948.5 1933.5L960.0 1945.0L948.5 1956.5ZM891.0 1673.0L902.5 1661.5L914.0 1673.0L902.5 1684.5ZM794.2 1957.5L805.8 1946.0L817.2 1957.5L805.8 1969.0ZM773.0 1966.2L784.5 1954.8L796.0 1966.2L784.5 1977.8ZM904.0 1963.8L915.5 1952.2L927.0 1963.8L915.5 1975.2ZM789.8 1980.0L801.2 1968.5L812.8 1980.0L801.2 1991.5ZM938.5 1977.5L950.0 1966.0L961.5 1977.5L950.0 1989.0ZM959.8 1974.5L971.2 1963.0L982.8 1974.5L971.2 1986.0ZM737.2 1998.8L748.8 1987.2L760.2 1998.8L748.8 2010.2ZM780.5 1994.5L792.0 1983.0L803.5 1994.5L792.0 2006.0ZM982.2 2002.5L993.8 1991.0L1005.2 2002.5L993.8 2014.0ZM973.5 2010.0L985.0 1998.5L996.5 2010.0L985.0 2021.5ZM971.0 2017.5L982.5 2006.0L994.0 2017.5L982.5 2029.0ZM824.8 2022.5L836.2 2011.0L847.8 2022.5L836.2 2034.0ZM928.5 2022.5L940.0 2011.0L951.5 2022.5L940.0 2034.0ZM876.8 2043.8L888.2 2032.2L899.8 2043.8L888.2 2055.2ZM941.0 2050.8L952.5 2039.2L964.0 2050.8L952.5 2062.2ZM928.5 2058.8L940.0 2047.2L951.5 2058.8L940.0 2070.2ZM923.5 2068.8L935.0 2057.2L946.5 2068.8L935.0 2080.2ZM855.5 2072.0L867.0 2060.5L878.5 2072.0L867.0 2083.5ZM754.8 2078.2L766.2 2066.8L777.8 2078.2L766.2 2089.8ZM801.8 2079.5L813.2 2068.0L824.8 2079.5L813.2 2091.0ZM954.2 2076.8L965.8 2065.2L977.2 2076.8L965.8 2088.2ZM969.2 2073.0L980.8 2061.5L992.2 2073.0L980.8 2084.5ZM1113.5 1761.8L1125.0 1750.2L1136.5 1761.8L1125.0 1773.2ZM1275.5 1798.8L1287.0 1787.2L1298.5 1798.8L1287.0 1810.2ZM1032.2 1812.0L1043.8 1800.5L1055.2 1812.0L1043.8 1823.5ZM1124.8 1810.5L1136.2 1799.0L1147.8 1810.5L1136.2 1822.0ZM1139.2 1808.8L1150.8 1797.2L1162.2 1808.8L1150.8 1820.2ZM1178.0 1813.8L1189.5 1802.2L1201.0 1813.8L1189.5 1825.2ZM1210.5 1853.0L1222.0 1841.5L1233.5 1853.0L1222.0 1864.5ZM1194.0 1877.0L1205.5 1865.5L1217.0 1877.0L1205.5 1888.5ZM1211.8 1872.5L1223.2 1861.0L1234.8 1872.5L1223.2 1884.0ZM1234.8 1871.2L1246.2 1859.8L1257.8 1871.2L1246.2 1882.8ZM1240.2 1880.8L1251.8 1869.2L1263.2 1880.8L1251.8 1892.2ZM1160.5 1891.2L1172.0 1879.8L1183.5 1891.2L1172.0 1902.8ZM1181.8 1898.0L1193.2 1886.5L1204.8 1898.0L1193.2 1909.5ZM1224.2 1893.2L1235.8 1881.8L1247.2 1893.2L1235.8 1904.8ZM1109.8 1895.0L1121.2 1883.5L1132.8 1895.0L1121.2 1906.5ZM1117.2 1899.5L1128.8 1888.0L1140.2 1899.5L1128.8 1911.0ZM1037.2 1909.5L1048.8 1898.0L1060.2 1909.5L1048.8 1921.0ZM1055.2 1911.2L1066.8 1899.8L1078.2 1911.2L1066.8 1922.8ZM1116.0 1912.5L1127.5 1901.0L1139.0 1912.5L1127.5 1924.0ZM1127.2 1917.5L1138.8 1906.0L1150.2 1917.5L1138.8 1929.0ZM1144.8 1918.8L1156.2 1907.2L1167.8 1918.8L1156.2 1930.2ZM1161.0 1921.2L1172.5 1909.8L1184.0 1921.2L1172.5 1932.8ZM1169.0 1922.5L1180.5 1911.0L1192.0 1922.5L1180.5 1934.0ZM1202.8 1920.8L1214.2 1909.2L1225.8 1920.8L1214.2 1932.2ZM1224.0 1910.5L1235.5 1899.0L1247.0 1910.5L1235.5 1922.0ZM1110.5 1935.0L1122.0 1923.5L1133.5 1935.0L1122.0 1946.5ZM1137.8 1943.2L1149.2 1931.8L1160.8 1943.2L1149.2 1954.8ZM1207.2 1956.2L1218.8 1944.8L1230.2 1956.2L1218.8 1967.8ZM1262.8 1953.0L1274.2 1941.5L1285.8 1953.0L1274.2 1964.5ZM1029.8 1948.8L1041.2 1937.2L1052.8 1948.8L1041.2 1960.2ZM1006.5 1956.5L1018.0 1945.0L1029.5 1956.5L1018.0 1968.0ZM1016.0 1955.2L1027.5 1943.8L1039.0 1955.2L1027.5 1966.8ZM1048.5 1956.5L1060.0 1945.0L1071.5 1956.5L1060.0 1968.0ZM1110.2 1960.5L1121.8 1949.0L1133.2 1960.5L1121.8 1972.0ZM1131.0 1959.5L1142.5 1948.0L1154.0 1959.5L1142.5 1971.0ZM1142.5 1963.8L1154.0 1952.2L1165.5 1963.8L1154.0 1975.2ZM1151.0 1971.2L1162.5 1959.8L1174.0 1971.2L1162.5 1982.8ZM1109.2 1971.2L1120.8 1959.8L1132.2 1971.2L1120.8 1982.8ZM1084.2 1976.8L1095.8 1965.2L1107.2 1976.8L1095.8 1988.2ZM1136.0 1983.8L1147.5 1972.2L1159.0 1983.8L1147.5 1995.2ZM1151.0 1980.0L1162.5 1968.5L1174.0 1980.0L1162.5 1991.5ZM993.5 1990.0L1005.0 1978.5L1016.5 1990.0L1005.0 2001.5ZM1017.2 1996.0L1028.8 1984.5L1040.2 1996.0L1028.8 2007.5ZM1003.5 2002.5L1015.0 1991.0L1026.5 2002.5L1015.0 2014.0ZM1034.8 1996.0L1046.2 1984.5L1057.8 1996.0L1046.2 2007.5ZM1040.0 2001.5L1051.5 1990.0L1063.0 2001.5L1051.5 2013.0ZM1056.5 2000.0L1068.0 1988.5L1079.5 2000.0L1068.0 2011.5ZM1022.5 2001.5L1034.0 1990.0L1045.5 2001.5L1034.0 2013.0ZM1095.5 2000.0L1107.0 1988.5L1118.5 2000.0L1107.0 2011.5ZM1132.2 2010.0L1143.8 1998.5L1155.2 2010.0L1143.8 2021.5ZM1129.8 2021.2L1141.2 2009.8L1152.8 2021.2L1141.2 2032.8ZM1122.2 2031.2L1133.8 2019.8L1145.2 2031.2L1133.8 2042.8ZM1103.5 2032.5L1115.0 2021.0L1126.5 2032.5L1115.0 2044.0ZM1111.8 2043.8L1123.2 2032.2L1134.8 2043.8L1123.2 2055.2ZM1137.8 2044.2L1149.2 2032.8L1160.8 2044.2L1149.2 2055.8ZM1169.8 2003.8L1181.2 1992.2L1192.8 2003.8L1181.2 2015.2ZM1159.8 2008.0L1171.2 1996.5L1182.8 2008.0L1171.2 2019.5ZM1238.5 2023.0L1250.0 2011.5L1261.5 2023.0L1250.0 2034.5ZM1259.8 2007.5L1271.2 1996.0L1282.8 2007.5L1271.2 2019.0ZM988.0 2027.5L999.5 2016.0L1011.0 2027.5L999.5 2039.0ZM987.0 2037.0L998.5 2025.5L1010.0 2037.0L998.5 2048.5ZM1022.2 2046.8L1033.8 2035.2L1045.2 2046.8L1033.8 2058.2ZM1029.8 2050.5L1041.2 2039.0L1052.8 2050.5L1041.2 2062.0ZM1178.5 2049.5L1190.0 2038.0L1201.5 2049.5L1190.0 2061.0ZM1172.2 2063.8L1183.8 2052.2L1195.2 2063.8L1183.8 2075.2ZM1056.5 2071.8L1068.0 2060.2L1079.5 2071.8L1068.0 2083.2ZM1106.0 2065.0L1117.5 2053.5L1129.0 2065.0L1117.5 2076.5ZM1096.0 2077.5L1107.5 2066.0L1119.0 2077.5L1107.5 2089.0ZM1111.0 2077.5L1122.5 2066.0L1134.0 2077.5L1122.5 2089.0ZM1112.2 2086.2L1123.8 2074.8L1135.2 2086.2L1123.8 2097.8ZM1033.8 2103.8L1045.2 2092.2L1056.8 2103.8L1045.2 2115.2ZM1079.0 2107.0L1090.5 2095.5L1102.0 2107.0L1090.5 2118.5ZM1162.0 2103.0L1173.5 2091.5L1185.0 2103.0L1173.5 2114.5ZM1129.5 2110.0L1141.0 2098.5L1152.5 2110.0L1141.0 2121.5ZM1090.5 2128.0L1102.0 2116.5L1113.5 2128.0L1102.0 2139.5ZM1131.0 2122.5L1142.5 2111.0L1154.0 2122.5L1142.5 2134.0ZM1139.8 2123.8L1151.2 2112.2L1162.8 2123.8L1151.2 2135.2ZM1267.2 2103.5L1278.8 2092.0L1290.2 2103.5L1278.8 2115.0ZM1309.2 2102.2L1320.8 2090.8L1332.2 2102.2L1320.8 2113.8ZM1285.2 2160.8L1296.8 2149.2L1308.2 2160.8L1296.8 2172.2ZM1139.0 2182.0L1150.5 2170.5L1162.0 2182.0L1150.5 2193.5Z" fill="#4b4b4b"/>
<line x1="399.3" y1="501.6" x2="1339" y2="283.7" stroke="#000" stroke-width="4.5" stroke-linecap="round"/>
<line x1="384.5" y1="1301.1" x2="1320.3" y2="1155.7" stroke="#000" stroke-width="4.5" stroke-linecap="round"/>
<polyline fill="none" stroke="#000" stroke-width="4.5" stroke-linecap="round" stroke-linejoin="round" points="377.6,2144.4 389.5,2137.2 401.5,2130.0 413.4,2123.1 425.4,2116.3 437.3,2109.6 449.3,2103.1 461.2,2096.7 473.1,2090.4 485.1,2084.3 497.0,2078.4 509.0,2072.6 520.9,2066.9 532.8,2061.4 544.8,2056.0 556.7,2050.8 568.7,2045.7 580.6,2040.8 592.6,2036.0 604.5,2031.3 616.4,2026.8 628.4,2022.5 640.3,2018.3 652.3,2014.2 664.2,2010.3 676.1,2006.5 688.1,2002.8 700.0,1999.4 712.0,1996.0 723.9,1992.8 735.9,1989.8 747.8,1986.9 759.7,1984.1 771.7,1981.5 783.6,1979.0 795.6,1976.7 807.5,1974.5 819.4,1972.4 831.4,1970.5 843.3,1968.8 855.3,1967.2 867.2,1965.7 879.2,1964.4 891.1,1963.2 903.0,1962.2 915.0,1961.3 926.9,1960.6 938.9,1960.0 950.8,1959.6 962.7,1959.3 974.7,1959.1 986.6,1959.1 998.6,1959.2 1010.5,1959.5 1022.5,1959.9 1034.4,1960.5 1046.3,1961.2 1058.3,1962.1 1070.2,1963.1 1082.2,1964.2 1094.1,1965.5 1106.0,1967.0 1118.0,1968.5 1129.9,1970.3 1141.9,1972.2 1153.8,1974.2 1165.8,1976.3 1177.7,1978.6 1189.6,1981.1 1201.6,1983.7 1213.5,1986.4 1225.5,1989.3 1237.4,1992.4 1249.3,1995.5 1261.3,1998.9 1273.2,2002.3 1285.2,2005.9 1297.1,2009.7 1309.1,2013.6 1321.0,2017.6"/>
<text transform="translate(8.2,51.7) scale(1,1.045)" text-anchor="start" font-size="61.5" font-weight="bold">A</text>
<text transform="translate(8.2,838) scale(1,1.045)" text-anchor="start" font-size="61.5" font-weight="bold">B</text>
<text transform="translate(8.2,1649) scale(1,1.045)" text-anchor="start" font-size="61.5" font-weight="bold">C</text>
<text transform="translate(206.5,69.2) scale(1,1.025)" text-anchor="start" font-size="37.8" textLength="319" lengthAdjust="spacing">y = 1.456x + 63.00</text>
<text transform="translate(276,112.2) scale(1,1.025)" text-anchor="start" font-size="37.8" textLength="180.5" lengthAdjust="spacing">R² = 0.333</text>
<text transform="translate(191.5,899.3) scale(1,1.025)" text-anchor="start" font-size="37.8" textLength="310.5" lengthAdjust="spacing">y = 0.023x + 1.860</text>
<text transform="translate(258.8,942.3) scale(1,1.025)" text-anchor="start" font-size="37.8" textLength="176.5" lengthAdjust="spacing">R² = 0.213</text>
<text transform="translate(191.7,1692) scale(1,1.025)" text-anchor="start" font-size="37.8" textLength="529" lengthAdjust="spacing">y = -0.0001x<tspan font-size="24" dy="-12">2</tspan><tspan dy="12"> + 0.018x + 1.081</tspan></text>
<text transform="translate(367,1735.2) scale(1,1.025)" text-anchor="start" font-size="37.8" textLength="179.5" lengthAdjust="spacing">R² = 0.247</text>
<text transform="translate(55.5,346) rotate(-90) scale(1,1.025)" text-anchor="middle" font-size="37.8" font-weight="bold">Swim Distance  (cm)</text>
<text transform="translate(83.2,1168.5) rotate(-90) scale(1,1.025)" text-anchor="middle" font-size="37.8" font-weight="bold">Swim Time (s)</text>
<text transform="translate(57,1983.8) rotate(-90) scale(1,1.025)" text-anchor="middle" font-size="37.8" font-weight="bold" textLength="261.5" lengthAdjust="spacing">Velocity (cm/s)</text>
<text transform="translate(739.5,2412.3) scale(1,1.025)" text-anchor="middle" font-size="37.8" font-weight="bold" textLength="318" lengthAdjust="spacing">Shell Height (mm)</text>
</svg>
</body></html>
